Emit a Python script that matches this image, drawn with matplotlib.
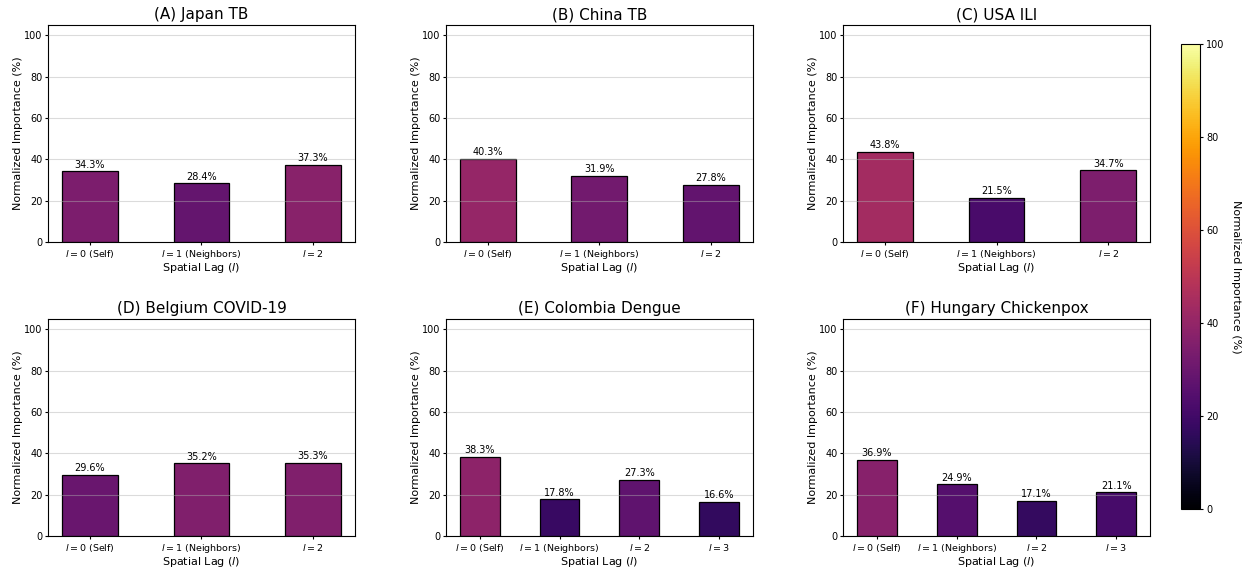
import matplotlib
matplotlib.use("Agg")
import matplotlib.pyplot as plt
import numpy as np

titles = ["(A) Japan TB", "(B) China TB", "(C) USA ILI",
          "(D) Belgium COVID-19", "(E) Colombia Dengue", "(F) Hungary Chickenpox"]
japan_tb = [34.3, 28.4, 37.3]
china_tb = [40.3, 31.9, 27.8]
usa_ili = [43.8, 21.5, 34.7]
belgium_covid = [29.6, 35.2, 35.3]
colombia_dengue = [38.3, 17.8, 27.3, 16.6]
hungary_chickenpox = [36.9, 24.9, 17.1, 21.1]
lag_labels = ["$l=0$ (Self)", "$l=1$ (Neighbors)", "$l=2$", "$l=3$"]

all_values = [japan_tb, china_tb, usa_ili, belgium_covid, colombia_dengue, hungary_chickenpox]

cmap = plt.get_cmap("inferno")
norm = matplotlib.colors.Normalize(vmin=0, vmax=100)

fig = plt.figure(figsize=(12.49, 5.67), dpi=100)

lefts = [0.0384, 0.357, 0.675]
bottoms = [0.573, 0.0547]
w, h = 0.2458, 0.383

for i, (title, vals) in enumerate(zip(titles, all_values)):
    ax = fig.add_axes([lefts[i % 3], bottoms[i // 3], w, h])
    x = np.arange(len(vals))
    colors = [cmap(norm(v)) for v in vals]
    bars = ax.bar(x, vals, width=0.5, color=colors, edgecolor="black", linewidth=0.9)
    for b, v in zip(bars, vals):
        ax.text(b.get_x() + b.get_width() / 2, v + 0.8, f"{v:.1f}%",
                ha="center", va="bottom", fontsize=7)
    ax.set_xticks(x)
    ax.set_xticklabels(lag_labels[:len(vals)], fontsize=6.8)
    ax.tick_params(axis="both", length=2.5, pad=1.5)
    ax.tick_params(axis="y", labelsize=7)
    ax.set_ylim(0, 105)
    ax.set_yticks([0, 20, 40, 60, 80, 100])
    ax.grid(axis="y", color="#b0b0b0", alpha=0.45, linewidth=0.8)
    ax.set_axisbelow(False)
    ax.set_title(title, fontsize=11, pad=4)
    ax.set_ylabel("Normalized Importance (%)", fontsize=8, labelpad=1)
    ax.set_xlabel("Spatial Lag ($l$)", fontsize=8, labelpad=0.5)

cax = fig.add_axes([0.9456, 0.1023, 0.0152, 0.820])
sm = matplotlib.cm.ScalarMappable(cmap=cmap, norm=norm)
cb = fig.colorbar(sm, cax=cax)
cb.ax.tick_params(labelsize=7, length=2.5, pad=2)
cb.set_label("Normalized Importance (%)", rotation=270, labelpad=12, fontsize=8)

fig.savefig("out.png", dpi=100)
